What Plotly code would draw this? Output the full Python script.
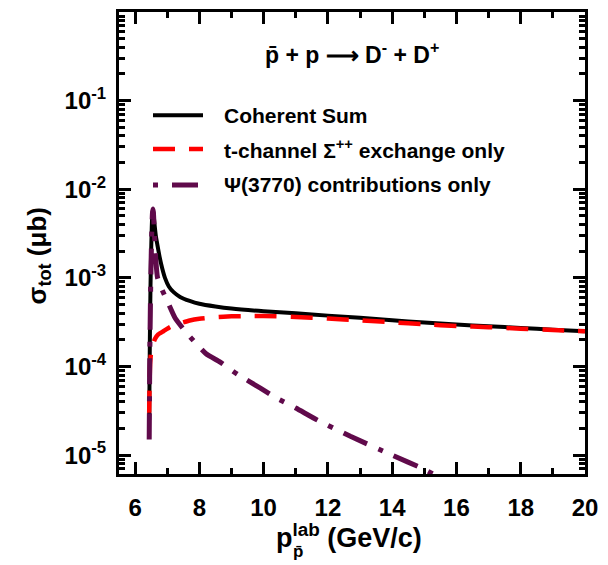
import plotly.graph_objects as go

# ---------------- data ----------------
p_sum = [6.44, 6.46, 6.48, 6.50, 6.52, 6.54, 6.56, 6.58, 6.61, 6.65, 6.70, 6.76, 6.84, 6.93,
         7.05, 7.2, 7.4, 7.7, 8.0, 8.5, 9.0, 10, 11, 12, 13, 14, 15, 16, 17, 18, 19, 20]
sigma_sum = [2.5e-5, 2.0e-4, 8.0e-4, 2.0e-3, 3.8e-3, 5.4e-3, 5.8e-3, 5.0e-3, 3.9e-3, 2.9e-3,
             2.3e-3, 1.75e-3, 1.3e-3, 1.0e-3, 8.0e-4, 6.9e-4, 6.1e-4, 5.5e-4, 5.1e-4, 4.75e-4,
             4.5e-4, 4.2e-4, 3.98e-4, 3.75e-4, 3.55e-4, 3.33e-4, 3.13e-4, 2.97e-4, 2.85e-4,
             2.72e-4, 2.6e-4, 2.5e-4]

p_t = [6.44, 6.45, 6.47, 6.50, 6.55, 6.62, 6.72, 6.88, 7.1, 7.4, 7.7, 8.0, 8.5, 9.0, 9.5, 10,
       11, 12, 13, 14, 15, 16, 17, 18, 19, 20]
sigma_t = [3.0e-5, 6.0e-5, 1.1e-4, 1.45e-4, 1.75e-4, 2.05e-4, 2.3e-4, 2.5e-4, 2.8e-4, 3.07e-4,
           3.3e-4, 3.45e-4, 3.6e-4, 3.68e-4, 3.71e-4, 3.71e-4, 3.62e-4, 3.48e-4, 3.32e-4,
           3.15e-4, 2.99e-4, 2.87e-4, 2.78e-4, 2.67e-4, 2.58e-4, 2.5e-4]

p_psi = [6.44, 6.46, 6.48, 6.50, 6.52, 6.54, 6.555, 6.57, 6.60, 6.64, 6.70, 6.85, 7.0, 7.25,
         7.6, 8.2, 8.65, 9.2, 9.9, 10.4, 11.0, 11.66, 12.7, 14.0, 15.0, 15.6]
sigma_psi = [1.5e-5, 1.5e-4, 6.0e-4, 1.6e-3, 3.3e-3, 5.3e-3, 6.0e-3, 5.5e-3, 3.3e-3, 1.7e-3,
             1.0e-3, 7.2e-4, 5.5e-4, 3.5e-4, 2.4e-4, 1.4e-4, 1.12e-4, 8.1e-5, 5.7e-5, 4.4e-5,
             3.4e-5, 2.5e-5, 1.63e-5, 1.0e-5, 6.9e-6, 5.3e-6]

x_ticks = [6, 8, 10, 12, 14, 16, 18, 20]
x_minor = [7, 9, 11, 13, 15, 17, 19]
y_ticks = [1e-5, 1e-4, 1e-3, 1e-2, 1e-1]
y_ticktext = ["10<sup>-5</sup>", "10<sup>-4</sup>", "10<sup>-3</sup>", "10<sup>-2</sup>", "10<sup>-1</sup>"]
y_minor = [k * 10.0 ** n for n in range(-6, 0) for k in range(2, 10)]

legend_names = ["Coherent Sum", "t-channel Σ<sup>++</sup> exchange only", "Ψ(3770) contributions only"]

BLACK = "#000000"
RED = "#FF0000"
PURPLE = "#600A4B"
FONT = "Liberation Sans"

# ---------------- figure ----------------
L, R, T, B = 119, 23, 9, 91
W, H = 608, 565
pw, ph = W - L - R, H - T - B


def px2paper_x(px):
    return (px - L) / pw


def px2paper_y(py):
    return (H - B - py) / ph


fig = go.Figure()
fig.add_trace(go.Scatter(x=p_sum, y=sigma_sum, mode="lines",
                         line=dict(color=BLACK, width=4, shape="spline", smoothing=0.5),
                         showlegend=False))
fig.add_trace(go.Scatter(x=p_t, y=sigma_t, mode="lines",
                         line=dict(color=RED, width=4.5, dash="22px,14px", shape="spline", smoothing=0.5),
                         showlegend=False))
fig.add_trace(go.Scatter(x=p_psi, y=sigma_psi, mode="lines",
                         line=dict(color=PURPLE, width=5, dash="26px,12px,5px,12px", shape="spline", smoothing=0.5),
                         showlegend=False))

axis_common = dict(showline=True, linewidth=3, linecolor="black", mirror="ticks",
                   ticks="inside", tickwidth=2.5, tickcolor="black", showgrid=False, zeroline=False)

fig.update_xaxes(range=[5.5, 20], tickmode="array", tickvals=x_ticks, ticklen=12,
                 ticklabelstandoff=10,
                 tickfont=dict(family=FONT, size=24, color="black", weight="bold"),
                 minor=dict(tickmode="array", tickvals=x_minor, ticklen=6, ticks="inside",
                            tickwidth=2.5, tickcolor="black"),
                 **axis_common)
fig.update_yaxes(type="log", range=[-5.213, 0], tickmode="array", tickvals=y_ticks,
                 ticktext=y_ticktext, ticklen=12, ticklabelstandoff=5,
                 tickfont=dict(family=FONT, size=24, color="black", weight="bold"),
                 minor=dict(tickmode="array", tickvals=y_minor, ticklen=6, ticks="inside",
                            tickwidth=2.5, tickcolor="black"),
                 **axis_common)

annotations = []
shapes = []
# legend
leg_y = [113, 147, 183]
styles = [dict(color=BLACK, width=4), dict(color=RED, width=4.5, dash="22px,14px"),
          dict(color=PURPLE, width=5, dash="5px,14px,26px,12px")]
for name, py, st in zip(legend_names, leg_y, styles):
    shapes.append(dict(type="line", xref="paper", yref="paper",
                       x0=px2paper_x(153), x1=px2paper_x(203), y0=px2paper_y(py), y1=px2paper_y(py),
                       line=st))
    annotations.append(dict(text=name, xref="paper", yref="paper", x=px2paper_x(222), y=px2paper_y(py),
                            xanchor="left", yanchor="middle", showarrow=False,
                            font=dict(family=FONT, size=21, color="black", weight="bold")))

# title
annotations.append(dict(text="p̄ + p ⟶ D<sup>-</sup> + D<sup>+</sup>", xref="paper", yref="paper",
                        x=px2paper_x(352), y=px2paper_y(50), xanchor="center", yanchor="middle",
                        showarrow=False, font=dict(family=FONT, size=23, color="black", weight="bold")))
# x-axis title
annotations.append(dict(text="p<sup>lab</sup> (GeV/c)", xref="paper", yref="paper",
                        x=px2paper_x(274), y=px2paper_y(536), xanchor="left", yanchor="middle",
                        showarrow=False, font=dict(family=FONT, size=27, color="black", weight="bold")))
annotations.append(dict(text="p̄", xref="paper", yref="paper",
                        x=px2paper_x(291), y=px2paper_y(552), xanchor="left", yanchor="middle",
                        showarrow=False, font=dict(family=FONT, size=17, color="black", weight="bold")))
# y-axis title
annotations.append(dict(text="σ<sub>tot</sub> (μb)", xref="paper", yref="paper",
                        x=px2paper_x(38), y=px2paper_y(255), xanchor="center", yanchor="middle",
                        textangle=-90, showarrow=False,
                        font=dict(family=FONT, size=26, color="black", weight="bold")))

fig.update_layout(width=W, height=H, margin=dict(l=L, r=R, t=T, b=B, pad=0),
                  plot_bgcolor="white", paper_bgcolor="white",
                  annotations=annotations, shapes=shapes, showlegend=False)

fig.write_html("out.html")
